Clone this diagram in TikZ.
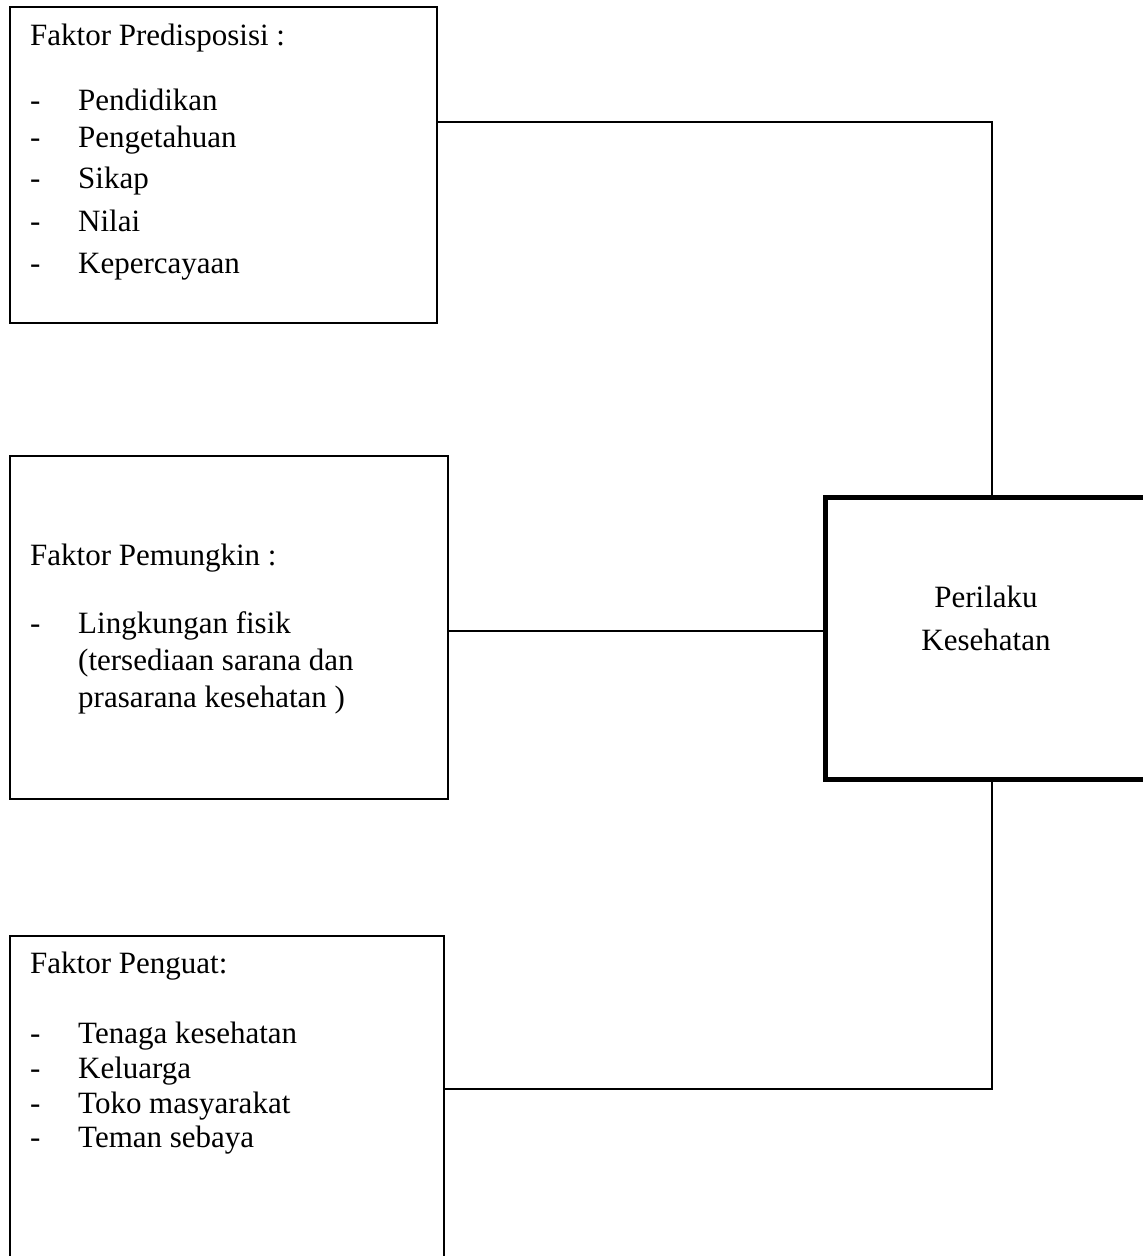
\documentclass[tikz,border=0pt]{standalone}
\usepackage{fontspec}
\setmainfont{Liberation Serif}
\usetikzlibrary{positioning}

\begin{document}
\begin{tikzpicture}[x=1pt, y=-1pt,
    kotak/.style={draw, line width=1.6pt, minimum width=#1, inner sep=0pt},
    teks/.style={anchor=base west, inner sep=0pt, font=\fontsize{31}{37}\selectfont}]
    \useasboundingbox (0,0) rectangle (1143,1256);
    \clip (0,0) rectangle (1143,1256);

    % kotak faktor
    \node[kotak=427pt, minimum height=316pt] (predisposisi) at (223.5,165) {};
    \node[kotak=438pt, minimum height=343pt] (pemungkin) at (229,627.5) {};
    \node[kotak=434pt, minimum height=364pt] (penguat) at (227,1118) {};
    % kotak perilaku (tebal)
    \node[draw, line width=5pt, minimum width=325pt, minimum height=282pt, inner sep=0pt] (perilaku) at (987.5,638) {};

    % butir daftar: \butir{nama}{y}{teks}
    \newcommand{\butir}[3]{
      \node[teks] (#1-dash) at (30,#2) {-};
      \node[teks] (#1) at (78,#2) {#3};
    }

    % faktor predisposisi
    \node[teks] (judul1) at (30,45) {Faktor Predisposisi :};
    \butir{pendidikan}{110}{Pendidikan}
    \butir{pengetahuan}{147}{Pengetahuan}
    \butir{sikap}{188}{Sikap}
    \butir{nilai}{231}{Nilai}
    \butir{kepercayaan}{273}{Kepercayaan}

    % faktor pemungkin
    \node[teks] (judul2) at (30,565) {Faktor Pemungkin :};
    \butir{lingkungan}{633}{Lingkungan fisik}
    \node[teks] (sarana) at (78,670) {(tersediaan sarana dan};
    \node[teks] (prasarana) at (78,707) {prasarana kesehatan )};

    % faktor penguat
    \node[teks] (judul3) at (30,973) {Faktor Penguat:};
    \butir{tenaga}{1043}{Tenaga kesehatan}
    \butir{keluarga}{1078}{Keluarga}
    \butir{toko}{1113}{Toko masyarakat}
    \butir{teman}{1147}{Teman sebaya}

    % perilaku kesehatan
    \node[teks, anchor=base] (perilaku1) at (986,607) {Perilaku};
    \node[teks, anchor=base] (perilaku2) at (986,650) {Kesehatan};

    % garis penghubung
    \coordinate (sudut1) at (992,122);
    \coordinate (tengah) at (0,631);
    \coordinate (sudut3) at (992,1089);
    \draw[line width=1.6pt] (predisposisi.east |- sudut1) -- (sudut1) -- (sudut1 |- perilaku.north);
    \draw[line width=1.6pt] (pemungkin.east |- tengah) -- (perilaku.west |- tengah);
    \draw[line width=1.6pt] (penguat.east |- sudut3) -- (sudut3) -- (sudut3 |- perilaku.south);
  \end{tikzpicture}
\end{document}
